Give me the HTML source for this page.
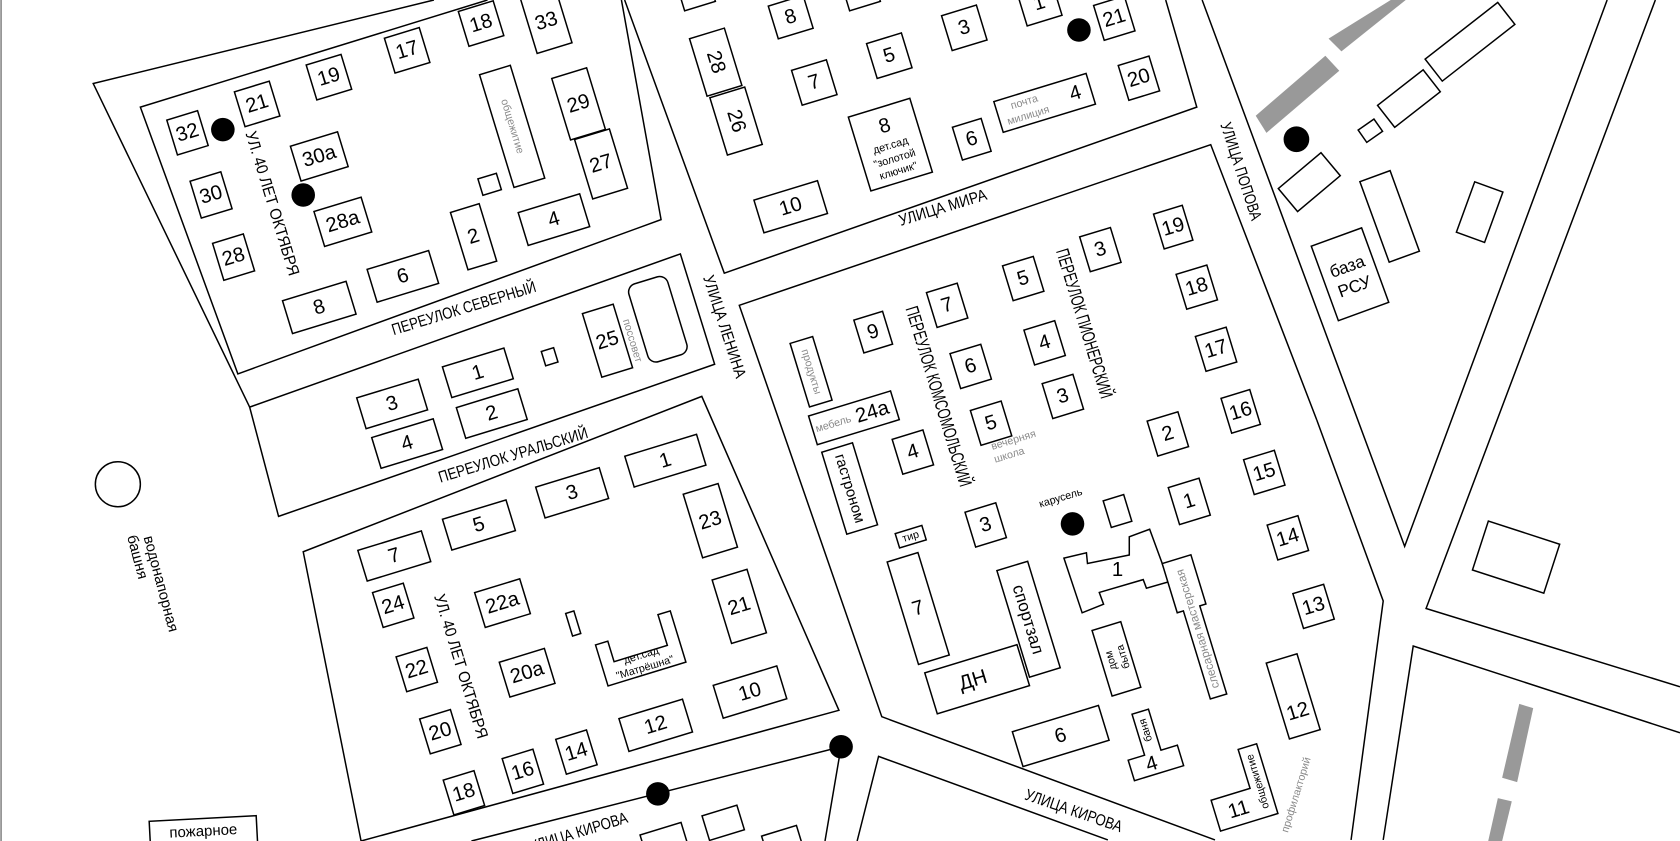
<!DOCTYPE html>
<html><head><meta charset="utf-8"><style>
html,body{margin:0;padding:0;background:#fff;overflow:hidden}
svg{display:block}
.r{fill:#fff;stroke:#000;stroke-width:1.4}
.l{fill:none;stroke:#000;stroke-width:1.4}
text{font-family:"Liberation Sans",sans-serif;fill:#000;text-anchor:middle;dominant-baseline:central}
.n{font-size:19px}
.g{fill:#8a8a8a;font-size:10px}
.s{font-size:15px;font-family:"Liberation Sans Narrow","Liberation Sans",sans-serif}
.m{font-size:10px}
</style></head><body>
<svg width="1680" height="841" viewBox="0 0 1568 785" preserveAspectRatio="none" xmlns="http://www.w3.org/2000/svg">
<rect width="1568" height="785" fill="#fff"/>
<line x1="1" y1="0" x2="1" y2="785" stroke="#888" stroke-width="1.5"/>
<path class="l" d="M405,0 L87,78 L233,380"/>
<path class="l" d="M455,0 L131,100 L222,349 L617,205 L580,0"/>
<path class="l" d="M583,0 L676,255 L1117,100 L1088,0"/>
<path class="l" d="M233,380 L635,237 L667,340 L260,482 Z"/>
<path class="l" d="M337,785 L283,515 L655,370 L783,663 L337,785"/>
<path class="l" d="M440,785 L785,697 L770,785"/>
<path class="l" d="M1229,392 L1130,135 L690,285 L823,669 L1134,784"/>
<path class="l" d="M1229,392 L1291,561 L1261,784"/>
<path class="l" d="M800,785 L820,706 L1034,784"/>
<path class="l" d="M1122,0 L1311,510 L1500,0"/>
<path class="l" d="M1545,0 L1331,568 L1568,641"/>
<path class="l" d="M1291,784 L1319,603 L1568,684"/>
<polygon points="1172,108 1237,52 1250,66 1182,124" fill="#999"/>
<polygon points="1240,36 1298,0 1312,0 1252,48" fill="#999"/>
<polygon points="1418,657 1431,661 1416,730 1402,726" fill="#999"/>
<polygon points="1398,745 1411,748 1402,785 1389,785" fill="#999"/>
<g transform="translate(175,124) rotate(-17)"><rect class="r" x="-15" y="-17" width="30" height="34"/><text class="n">32</text></g>
<g transform="translate(240,97) rotate(-17)"><rect class="r" x="-17" y="-17" width="34" height="34"/><text class="n">21</text></g>
<g transform="translate(307,72) rotate(-17)"><rect class="r" x="-17" y="-17" width="34" height="34"/><text class="n">19</text></g>
<g transform="translate(380,47) rotate(-17)"><rect class="r" x="-17" y="-17" width="34" height="34"/><text class="n">17</text></g>
<g transform="translate(449,22) rotate(-17)"><rect class="r" x="-17" y="-17" width="34" height="34"/><text class="n">18</text></g>
<g transform="translate(510,20) rotate(-17)"><rect class="r" x="-17" y="-30" width="34" height="56"/><text class="n">33</text></g>
<g transform="translate(197,182) rotate(-17)"><rect class="r" x="-15" y="-18" width="30" height="36"/><text class="n">30</text></g>
<g transform="translate(218,240) rotate(-17)"><rect class="r" x="-15" y="-18" width="30" height="36"/><text class="n">28</text></g>
<g transform="translate(298,146) rotate(-17)"><rect class="r" x="-23" y="-17" width="46" height="34"/><text class="n">30а</text></g>
<g transform="translate(320,207) rotate(-17)"><rect class="r" x="-23" y="-17" width="46" height="34"/><text class="n">28а</text></g>
<g transform="translate(478,118) rotate(-17)"><rect class="r" x="-15" y="-55" width="30" height="110"/><text class="g" transform="rotate(90)">общежитие</text></g>
<g transform="translate(540,97) rotate(-17)"><rect class="r" x="-17" y="-30" width="34" height="60"/><text class="n">29</text></g>
<g transform="translate(561,153) rotate(-17)"><rect class="r" x="-17" y="-29" width="34" height="58"/><text class="n">27</text></g>
<g transform="translate(457,172) rotate(-17)"><rect class="r" x="-9" y="-8" width="18" height="16"/></g>
<g transform="translate(442,221) rotate(-17)"><rect class="r" x="-14" y="-28" width="28" height="56"/><text class="n">2</text></g>
<g transform="translate(517,205) rotate(-17)"><rect class="r" x="-30" y="-16" width="60" height="32"/><text class="n">4</text></g>
<g transform="translate(376,258) rotate(-17)"><rect class="r" x="-30" y="-16" width="60" height="32"/><text class="n">6</text></g>
<g transform="translate(298,287) rotate(-17)"><rect class="r" x="-31" y="-16" width="62" height="32"/><text class="n">8</text></g>
<circle cx="208" cy="121" r="11"/><circle cx="283" cy="182" r="11"/>
<text class="s" transform="translate(254,190) rotate(73)" textLength="140" lengthAdjust="spacingAndGlyphs">УЛ. 40 ЛЕТ ОКТЯБРЯ</text>
<g transform="translate(366,377) rotate(-17)"><rect class="r" x="-30" y="-15" width="60" height="30"/><text class="n">3</text></g>
<g transform="translate(446,348) rotate(-17)"><rect class="r" x="-30" y="-15" width="60" height="30"/><text class="n">1</text></g>
<g transform="translate(380,414) rotate(-17)"><rect class="r" x="-30" y="-15" width="60" height="30"/><text class="n">4</text></g>
<g transform="translate(459,386) rotate(-17)"><rect class="r" x="-30" y="-15" width="60" height="30"/><text class="n">2</text></g>
<g transform="translate(513,333) rotate(-17)"><rect class="r" x="-6" y="-7" width="12" height="14"/></g>
<g transform="translate(567,318) rotate(-17)"><rect class="r" x="-15" y="-31" width="30" height="62"/><text class="n">25</text></g>
<g transform="translate(614,298) rotate(-17)"><rect class="r" x="-19" y="-38" width="38" height="76" rx="8"/></g>
<text class="g" transform="translate(590,318) rotate(73)">поссовет</text>
<text class="s" transform="translate(433,288) rotate(-17)" textLength="140" lengthAdjust="spacingAndGlyphs">ПЕРЕУЛОК СЕВЕРНЫЙ</text>
<text class="s" transform="translate(479,425) rotate(-17)" textLength="145" lengthAdjust="spacingAndGlyphs">ПЕРЕУЛОК УРАЛЬСКИЙ</text>
<text class="s" transform="translate(676,305) rotate(72)" textLength="100" lengthAdjust="spacingAndGlyphs">УЛИЦА ЛЕНИНА</text>
<g transform="translate(621,430) rotate(-17)"><rect class="r" x="-35" y="-15" width="70" height="30"/><text class="n">1</text></g>
<g transform="translate(534,460) rotate(-17)"><rect class="r" x="-31" y="-15" width="62" height="30"/><text class="n">3</text></g>
<g transform="translate(447,490) rotate(-17)"><rect class="r" x="-31" y="-15" width="62" height="30"/><text class="n">5</text></g>
<g transform="translate(368,519) rotate(-17)"><rect class="r" x="-31" y="-15" width="62" height="30"/><text class="n">7</text></g>
<g transform="translate(663,486) rotate(-17)"><rect class="r" x="-17" y="-31" width="34" height="62"/><text class="n">23</text></g>
<g transform="translate(690,566) rotate(-17)"><rect class="r" x="-17" y="-31" width="34" height="62"/><text class="n">21</text></g>
<g transform="translate(367,565) rotate(-17)"><rect class="r" x="-15" y="-17" width="30" height="34"/><text class="n">24</text></g>
<g transform="translate(469,563) rotate(-17)"><rect class="r" x="-22" y="-17" width="44" height="34"/><text class="n">22а</text></g>
<g transform="translate(389,625) rotate(-17)"><rect class="r" x="-15" y="-17" width="30" height="34"/><text class="n">22</text></g>
<g transform="translate(492,628) rotate(-17)"><rect class="r" x="-22" y="-17" width="44" height="34"/><text class="n">20а</text></g>
<g transform="translate(411,683) rotate(-17)"><rect class="r" x="-15" y="-17" width="30" height="34"/><text class="n">20</text></g>
<g transform="translate(433,740) rotate(-17)"><rect class="r" x="-15" y="-17" width="30" height="34"/><text class="n">18</text></g>
<g transform="translate(488,720) rotate(-17)"><rect class="r" x="-15" y="-17" width="30" height="34"/><text class="n">16</text></g>
<g transform="translate(538,702) rotate(-17)"><rect class="r" x="-15" y="-17" width="30" height="34"/><text class="n">14</text></g>
<g transform="translate(612,677) rotate(-17)"><rect class="r" x="-31" y="-16" width="62" height="32"/><text class="n">12</text></g>
<g transform="translate(700,646) rotate(-17)"><rect class="r" x="-31" y="-16" width="62" height="32"/><text class="n">10</text></g>
<g transform="translate(535,582) rotate(-17)"><rect class="r" x="-4" y="-11" width="8" height="22"/></g>
<g transform="translate(598,610) rotate(-17)"><path class="r" d="M-38,-20 L-26,-20 L-26,0 L26,0 L26,-30 L38,-30 L38,20 L-38,20 Z"/><text class="m" y="2">дет.сад</text><text class="m" y="14">"Матрёшна"</text></g>
<text class="s" transform="translate(430,622) rotate(73)" textLength="140" lengthAdjust="spacingAndGlyphs">УЛ. 40 ЛЕТ ОКТЯБРЯ</text>
<circle cx="614" cy="741" r="11"/><circle cx="785" cy="697" r="11"/>
<text class="s" transform="translate(540,777) rotate(-17)" textLength="95" lengthAdjust="spacingAndGlyphs">УЛИЦА КИРОВА</text>
<g transform="translate(620,785) rotate(-17)"><rect class="r" x="-20" y="-12" width="40" height="24"/></g>
<g transform="translate(675,768) rotate(-17)"><rect class="r" x="-17" y="-12" width="34" height="24"/></g>
<g transform="translate(730,785) rotate(-17)"><rect class="r" x="-17" y="-10" width="34" height="20"/></g>
<g transform="translate(738,16) rotate(-17)"><rect class="r" x="-17" y="-16" width="34" height="32"/><text class="n">8</text></g>
<g transform="translate(668,58) rotate(-17)"><rect class="r" x="-17" y="-28" width="34" height="56"/><text class="n" transform="rotate(90)">28</text></g>
<g transform="translate(687,113) rotate(-17)"><rect class="r" x="-17" y="-28" width="34" height="56"/><text class="n" transform="rotate(90)">26</text></g>
<g transform="translate(760,77) rotate(-17)"><rect class="r" x="-17" y="-17" width="34" height="34"/><text class="n">7</text></g>
<g transform="translate(830,52) rotate(-17)"><rect class="r" x="-17" y="-17" width="34" height="34"/><text class="n">5</text></g>
<g transform="translate(900,26) rotate(-17)"><rect class="r" x="-17" y="-17" width="34" height="34"/><text class="n">3</text></g>
<g transform="translate(970,3) rotate(-17)"><rect class="r" x="-17" y="-17" width="34" height="34"/><text class="n">1</text></g>
<g transform="translate(651,-2) rotate(-17)"><rect class="r" x="-15" y="-10" width="30" height="18"/></g>
<g transform="translate(805,-2) rotate(-17)"><rect class="r" x="-15" y="-10" width="30" height="18"/></g>
<g transform="translate(1040,17) rotate(-17)"><rect class="r" x="-15" y="-17" width="30" height="34"/><text class="n">21</text></g>
<g transform="translate(1063,73) rotate(-17)"><rect class="r" x="-15" y="-17" width="30" height="34"/><text class="n">20</text></g>
<g transform="translate(975,96) rotate(-17)"><rect class="r" x="-45" y="-15" width="90" height="30"/><text class="g" x="-18" y="-6">почта</text><text class="g" x="-18" y="7">милиция</text><text class="n" x="30">4</text></g>
<g transform="translate(907,130) rotate(-17)"><rect class="r" x="-14" y="-16" width="28" height="32"/><text class="n">6</text></g>
<g transform="translate(831,135) rotate(-17)"><rect class="r" x="-30" y="-36" width="60" height="72"/><text class="n" y="-18">8</text><text class="m" y="1">дет.сад</text><text class="m" y="14">"золотой</text><text class="m" y="26">ключик"</text></g>
<g transform="translate(738,193) rotate(-17)"><rect class="r" x="-31" y="-16" width="62" height="32"/><text class="n">10</text></g>
<circle cx="1007" cy="28" r="11"/>
<text class="s" transform="translate(880,194) rotate(-17)" textLength="85" lengthAdjust="spacingAndGlyphs">УЛИЦА МИРА</text>
<g transform="translate(815,310) rotate(-17)"><rect class="r" x="-14" y="-16" width="28" height="32"/><text class="n">9</text></g>
<g transform="translate(884,285) rotate(-17)"><rect class="r" x="-15" y="-17" width="30" height="34"/><text class="n">7</text></g>
<g transform="translate(955,260) rotate(-17)"><rect class="r" x="-15" y="-17" width="30" height="34"/><text class="n">5</text></g>
<g transform="translate(1027,233) rotate(-17)"><rect class="r" x="-15" y="-17" width="30" height="34"/><text class="n">3</text></g>
<g transform="translate(1095,212) rotate(-17)"><rect class="r" x="-14" y="-17" width="28" height="34"/><text class="n">19</text></g>
<g transform="translate(1117,268) rotate(-17)"><rect class="r" x="-15" y="-17" width="30" height="34"/><text class="n">18</text></g>
<g transform="translate(1135,326) rotate(-17)"><rect class="r" x="-15" y="-17" width="30" height="34"/><text class="n">17</text></g>
<g transform="translate(1158,384) rotate(-17)"><rect class="r" x="-14" y="-17" width="28" height="34"/><text class="n">16</text></g>
<g transform="translate(1180,441) rotate(-17)"><rect class="r" x="-15" y="-17" width="30" height="34"/><text class="n">15</text></g>
<g transform="translate(1202,502) rotate(-17)"><rect class="r" x="-15" y="-17" width="30" height="34"/><text class="n">14</text></g>
<g transform="translate(1226,566) rotate(-17)"><rect class="r" x="-15" y="-17" width="30" height="34"/><text class="n">13</text></g>
<g transform="translate(1207,650) rotate(-17)"><rect class="r" x="-15" y="-37" width="30" height="74"/><text class="n" y="15">12</text></g>
<g transform="translate(906,342) rotate(-17)"><rect class="r" x="-15" y="-17" width="30" height="34"/><text class="n">6</text></g>
<g transform="translate(975,320) rotate(-17)"><rect class="r" x="-15" y="-17" width="30" height="34"/><text class="n">4</text></g>
<g transform="translate(992,370) rotate(-17)"><rect class="r" x="-15" y="-17" width="30" height="34"/><text class="n">3</text></g>
<g transform="translate(925,395) rotate(-17)"><rect class="r" x="-15" y="-17" width="30" height="34"/><text class="n">5</text></g>
<g transform="translate(852,422) rotate(-17)"><rect class="r" x="-15" y="-17" width="30" height="34"/><text class="n">4</text></g>
<g transform="translate(1090,405) rotate(-17)"><rect class="r" x="-15" y="-17" width="30" height="34"/><text class="n">2</text></g>
<g transform="translate(1110,468) rotate(-17)"><rect class="r" x="-15" y="-18" width="30" height="36"/><text class="n">1</text></g>
<g transform="translate(920,490) rotate(-17)"><rect class="r" x="-15" y="-17" width="30" height="34"/><text class="n">3</text></g>
<g transform="translate(1043,477) rotate(-17)"><rect class="r" x="-10" y="-13" width="20" height="26"/></g>
<g transform="translate(850,501) rotate(-17)"><rect class="r" x="-13" y="-7" width="26" height="14"/><text class="m">тир</text></g>
<g transform="translate(757,347) rotate(-17)"><rect class="r" x="-11" y="-31" width="22" height="62"/><text class="g" transform="rotate(90)">продукты</text></g>
<g transform="translate(797,390) rotate(-17)"><rect class="r" x="-40" y="-14" width="80" height="28"/><text class="g" x="-20">мебель</text><text class="n" x="18">24а</text></g>
<g transform="translate(793,456) rotate(-17)"><rect class="r" x="-15" y="-40" width="30" height="80"/><text class="n" style="font-size:14px" transform="rotate(90)">гастроном</text></g>
<g transform="translate(857,568) rotate(-17)"><rect class="r" x="-15" y="-50" width="30" height="100"/><text class="n">7</text></g>
<g transform="translate(960,578) rotate(-17)"><rect class="r" x="-15" y="-52" width="30" height="104"/><text class="n" style="font-size:16px" transform="rotate(90)">спортзал</text></g>
<g transform="translate(912,634) rotate(-17)"><rect class="r" x="-45" y="-20" width="90" height="40"/><text class="n" x="-4">ДН</text></g>
<polygon class="r" points="993,521 1014,516 1015,526 1054,518 1054,501 1073,494 1091,543 1070,549 1067,541 1026,553 1030,564 1010,572"/>
<text class="n" x="1043" y="532">1</text>
<g transform="translate(1042,615) rotate(-17)"><rect class="r" x="-14" y="-32" width="28" height="64"/><text class="m" transform="rotate(-90)" y="-5">дом</text><text class="m" transform="rotate(-90)" y="7">быта</text></g>
<g transform="translate(1118,587) rotate(-17)"><path class="r" d="M-14,-68 L14,-68 L14,-20 L8,-20 L8,66 L-8,66 L-8,-20 L-14,-20 Z"/><text class="g" transform="rotate(-90)" style="font-size:11px">слесарная мастерская</text></g>
<g transform="translate(990,687) rotate(-17)"><rect class="r" x="-42" y="-17" width="84" height="34"/><text class="n">6</text></g>
<g transform="translate(1073,693) rotate(-17)"><path class="r" d="M-8,-30 L8,-30 L8,10 L24,10 L24,30 L-24,30 L-24,10 L-8,10 Z"/><text class="m" transform="rotate(-90)" x="12" y="0">баня</text><text class="n" y="20" x="-4">4</text></g>
<g transform="translate(1156,735) rotate(-17)"><path class="r" d="M10,-34 L28,-34 L28,34 L-28,34 L-28,4 L10,4 Z"/><text class="m" transform="rotate(-90)" x="0" y="19">общежитие</text><text class="n" x="-6" y="20">11</text></g>
<text class="g" transform="translate(1210,742) rotate(-73)">профилакторий</text>
<circle cx="1001" cy="489" r="11"/>
<text class="m" transform="translate(990,465) rotate(-17)">карусель</text>
<text class="g" transform="translate(946,411) rotate(-17)">вечерняя</text>
<text class="g" transform="translate(942,425) rotate(-17)">школа</text>
<text class="s" transform="translate(876,370) rotate(73)" style="font-size:17px" textLength="175" lengthAdjust="spacingAndGlyphs">ПЕРЕУЛОК КОМСОМОЛЬСКИЙ</text>
<text class="s" transform="translate(1012,302) rotate(73)" style="font-size:17px" textLength="145" lengthAdjust="spacingAndGlyphs">ПЕРЕУЛОК ПИОНЕРСКИЙ</text>
<text class="s" transform="translate(1002,757) rotate(19)" textLength="95" lengthAdjust="spacingAndGlyphs">УЛИЦА КИРОВА</text>
<text class="s" transform="translate(1158,160) rotate(72)" textLength="95" lengthAdjust="spacingAndGlyphs">УЛИЦА ПОПОВА</text>
<circle cx="1210" cy="130" r="12"/>
<g transform="translate(1260,256) rotate(-20)"><rect class="r" x="-25" y="-37" width="50" height="74"/><text class="n" style="font-size:16px" y="-8">база</text><text class="n" style="font-size:16px" y="12">РСУ</text></g>
<g transform="translate(1297,202) rotate(-20)"><rect class="r" x="-15" y="-40" width="30" height="80"/></g>
<g transform="translate(1222,170) rotate(-40)"><rect class="r" x="-26" y="-14" width="52" height="28"/></g>
<g transform="translate(1279,122) rotate(-35)"><rect class="r" x="-9" y="-7" width="18" height="14"/></g>
<g transform="translate(1315,92) rotate(-38)"><rect class="r" x="-27" y="-13" width="54" height="26"/></g>
<g transform="translate(1372,39) rotate(-38)"><rect class="r" x="-43" y="-13" width="86" height="26"/></g>
<g transform="translate(1381,198) rotate(20)"><rect class="r" x="-14" y="-25" width="28" height="50"/></g>
<g transform="translate(1415,520) rotate(18)"><rect class="r" x="-35" y="-24" width="70" height="48"/></g>
<circle cx="110" cy="452" r="21" class="r"/>
<text class="m" style="font-size:14px" transform="translate(150,545) rotate(75)">водонапорная</text>
<text class="m" style="font-size:14px" transform="translate(128,520) rotate(75)">башня</text>
<g transform="translate(190,780) rotate(-3)"><rect class="r" x="-50" y="-16" width="100" height="40"/><text class="m" style="font-size:14px" y="-4">пожарное</text></g>
</svg>
</body></html>
